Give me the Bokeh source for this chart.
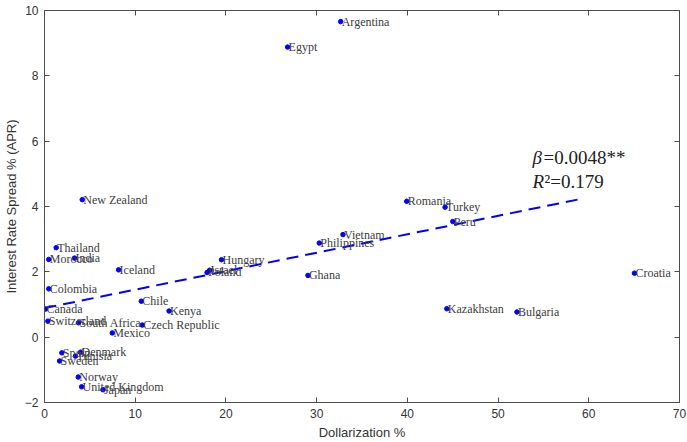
from bokeh.plotting import figure
from bokeh.models import ColumnDataSource, LinearAxis, Range1d, FixedTicker
from bokeh.core.properties import value
from bokeh.embed import file_html
from bokeh.resources import INLINE

# Country-level dollarization (%) vs. interest rate spread (% APR)
countries = [
    "Argentina", "Egypt", "New Zealand", "Thailand", "Morocco", "India",
    "Iceland", "Colombia", "Chile", "Canada", "Kenya", "Switzerland",
    "South Africa", "Czech Republic", "Mexico", "Spain", "Denmark", "Tunisia",
    "Sweden", "Norway", "United Kingdom", "Japan", "Hungary", "Israel",
    "Poland", "Philippines", "Vietnam", "Ghana", "Romania", "Turkey", "Peru",
    "Croatia", "Kazakhstan", "Bulgaria",
]
dollarization = [
    32.65, 26.8, 4.16, 1.29, 0.47, 3.31,
    8.17, 0.47, 10.67, 0.11, 13.73, 0.37,
    3.75, 10.78, 7.47, 1.91, 3.97, 3.42,
    1.66, 3.72, 4.09, 6.44, 19.51, 18.2,
    17.92, 30.29, 32.9, 29.04, 39.93, 44.16, 45.01,
    65.03, 44.35, 52.08,
]
spread = [
    9.66, 8.88, 4.21, 2.74, 2.38, 2.42,
    2.06, 1.48, 1.10, 0.86, 0.80, 0.49,
    0.44, 0.37, 0.13, -0.48, -0.46, -0.58,
    -0.73, -1.22, -1.52, -1.61, 2.37, 2.05,
    1.98, 2.88, 3.14, 1.89, 4.16, 3.98, 3.54,
    1.96, 0.87, 0.77,
]

# Fitted regression line
fit_x = [0.0, 59.3]
fit_intercept = 0.89
fit_slope = 0.0565
fit_y = [fit_intercept + fit_slope * x for x in fit_x]

# Regression statistics annotation (symbol, rest of the text)
beta_parts = ["\u03b2", "=0.0048**"]
r2_parts = ["R", "\u00b2=0.179"]
annot_x = 53.8
beta_y = 5.5
r2_y = 4.77

x_ticks = [0, 10, 20, 30, 40, 50, 60, 70]
y_ticks = [-2, 0, 2, 4, 6, 8, 10]

axis_color = "#4d4d4d"
label_color = "#3c3c3c"
serif = value("Liberation Serif")

p = figure(
    width=687, height=442,
    x_range=Range1d(0, 70), y_range=Range1d(-2, 10),
    output_backend="svg", toolbar_location=None,
    min_border_left=43, min_border_right=8,
    min_border_top=10, min_border_bottom=40,
    x_axis_label="Dollarization %",
    y_axis_label="Interest Rate Spread % (APR)",
)
p.grid.visible = False
p.outline_line_color = axis_color
p.background_fill_color = "white"
p.border_fill_color = "white"

for ax in (p.xaxis[0], p.yaxis[0]):
    ax.axis_line_color = axis_color
    ax.major_tick_line_color = axis_color
    ax.major_tick_in = 5
    ax.major_tick_out = 0
    ax.minor_tick_line_color = None
    ax.major_label_text_font = "Liberation Sans"
    ax.major_label_text_font_size = "12px"
    ax.major_label_text_color = "#333333"
    ax.axis_label_text_font = "Liberation Sans"
    ax.axis_label_text_font_size = "13px"
    ax.axis_label_text_font_style = "normal"
    ax.axis_label_text_color = "#333333"

p.xaxis[0].ticker = FixedTicker(ticks=x_ticks)
p.yaxis[0].ticker = FixedTicker(ticks=y_ticks)
p.xaxis[0].major_label_standoff = 6
p.yaxis[0].major_label_standoff = 6
p.xaxis[0].axis_label_standoff = 4
p.yaxis[0].axis_label_standoff = 3

# Mirror ticks on the top and right edges of the box
top = LinearAxis(ticker=FixedTicker(ticks=x_ticks))
right = LinearAxis(ticker=FixedTicker(ticks=y_ticks))
for ax in (top, right):
    ax.axis_line_color = axis_color
    ax.major_tick_line_color = axis_color
    ax.major_tick_in = 5
    ax.major_tick_out = 0
    ax.minor_tick_line_color = None
    ax.major_label_text_font_size = "0px"
    ax.major_label_text_alpha = 0
    ax.major_label_standoff = 0
p.add_layout(top, "above")
p.add_layout(right, "right")

src = ColumnDataSource(dict(x=dollarization, y=spread, name=countries))

p.line(fit_x, fit_y, line_color="#0000ff", line_width=2, line_dash="12 7")
p.scatter("x", "y", source=src, size=4.5, color="#0000ff")
p.text("x", "y", text="name", source=src, x_offset=1,
       text_baseline="middle", text_align="left",
       text_font=serif, text_font_size="12px", text_color=label_color)

# Italic symbols followed by upright values
p.text([annot_x], [beta_y], text=[beta_parts[0]], text_baseline="middle",
       text_font=serif, text_font_style="italic", text_font_size="19px",
       text_color="#222222")
p.text([annot_x], [beta_y], text=[beta_parts[1]], x_offset=11,
       text_baseline="middle", text_font=serif, text_font_size="19px",
       text_color="#222222")
p.text([annot_x], [r2_y], text=[r2_parts[0]], text_baseline="middle",
       text_font=serif, text_font_style="italic", text_font_size="19px",
       text_color="#222222")
p.text([annot_x], [r2_y], text=[r2_parts[1]], x_offset=12,
       text_baseline="middle", text_font=serif, text_font_size="19px",
       text_color="#222222")

open("out.html", "w").write(file_html(p, INLINE))
